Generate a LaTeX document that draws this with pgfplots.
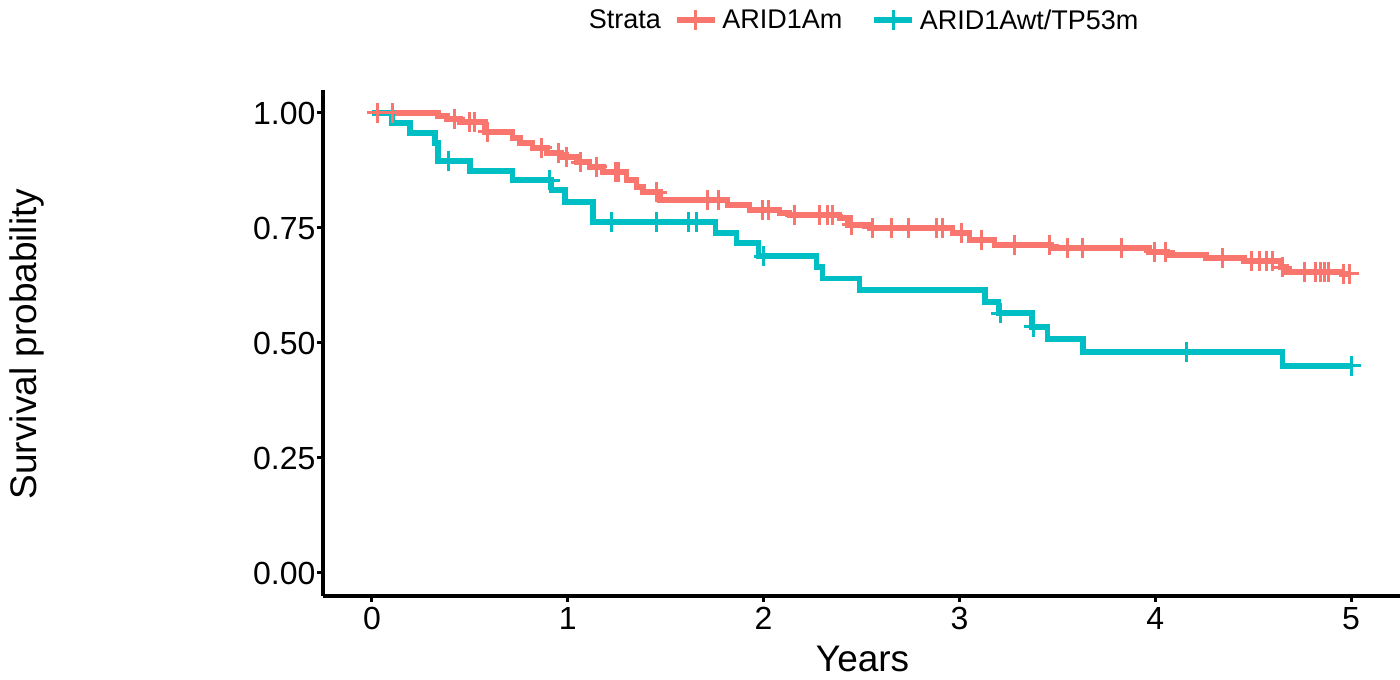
\documentclass[border=0pt]{standalone}
\usepackage{fontspec}
\setmainfont{Liberation Sans}
\usepackage{pgfplots}
\usepackage{pgfplotstable}
\pgfplotsset{compat=1.18}
\definecolor{kmred}{HTML}{F8766D}
\definecolor{kmteal}{HTML}{00BFC4}

\pgfplotstableread{
x y
0 1.000
0.337 0.993
0.383 0.987
0.449 0.980
0.577 0.959
0.719 0.946
0.755 0.935
0.821 0.924
0.893 0.913
0.969 0.904
1.046 0.893
1.112 0.883
1.179 0.872
1.301 0.854
1.352 0.839
1.383 0.828
1.470 0.811
1.816 0.800
1.929 0.789
2.082 0.783
2.133 0.778
2.388 0.772
2.429 0.757
2.540 0.750
2.964 0.739
3.051 0.724
3.179 0.713
3.469 0.707
3.969 0.698
4.061 0.691
4.260 0.685
4.454 0.678
4.643 0.665
4.668 0.654
4.954 0.650
5.000 0.650
}\redcurve

\pgfplotstableread{
x y
0.026 1.000
0.107 1.000
0.423 0.987
0.500 0.980
0.526 0.980
0.592 0.959
0.867 0.924
0.954 0.913
0.995 0.904
1.066 0.893
1.148 0.883
1.245 0.872
1.260 0.872
1.454 0.828
1.714 0.811
1.770 0.811
1.995 0.789
2.026 0.789
2.158 0.778
2.286 0.778
2.327 0.778
2.352 0.778
2.449 0.757
2.556 0.750
2.653 0.750
2.740 0.750
2.883 0.750
2.913 0.750
3.010 0.739
3.112 0.724
3.281 0.713
3.459 0.713
3.551 0.707
3.628 0.707
3.827 0.707
3.995 0.698
4.051 0.698
4.342 0.685
4.490 0.678
4.531 0.678
4.566 0.678
4.597 0.678
4.648 0.665
4.760 0.654
4.816 0.654
4.842 0.654
4.862 0.654
4.883 0.654
4.964 0.650
4.990 0.650
}\redcens

\pgfplotstableread{
x y
0 1.000
0.102 0.978
0.194 0.957
0.321 0.935
0.337 0.896
0.500 0.874
0.719 0.854
0.918 0.833
0.985 0.807
1.128 0.763
1.755 0.739
1.862 0.717
1.974 0.689
2.270 0.665
2.300 0.640
2.490 0.615
3.130 0.589
3.200 0.565
3.370 0.535
3.450 0.509
3.630 0.480
4.650 0.450
5.000 0.450
}\tealcurve

\pgfplotstableread{
x y
0.393 0.896
0.908 0.854
1.223 0.763
1.454 0.763
1.617 0.763
1.658 0.763
2.000 0.689
3.210 0.565
3.380 0.535
4.160 0.480
5.000 0.450
}\tealcens

\begin{document}
\begin{tikzpicture}
\useasboundingbox (0,0) rectangle (1400bp,680bp);
\begin{axis}[
 at={(323bp,84bp)}, anchor=south west,
 scale only axis, width=1077bp, height=506bp,
 xmin=-0.25, xmax=5.25, ymin=-0.05, ymax=1.05,
 axis lines=left, axis line style={-, line width=3.2bp, black},
 xtick={0,1,2,3,4,5}, ytick={0,0.25,0.5,0.75,1},
 xticklabels={0,1,2,3,4,5},
 yticklabels={0.00,0.25,0.50,0.75,1.00},
 tick align=outside, major tick length=6bp,
 tick style={line width=3bp, black},
 ticklabel style={font=\fontsize{32bp}{36bp}\selectfont},
 yticklabel style={xshift=2bp},
 xticklabel style={yshift=-2bp},
 xlabel={Years}, ylabel={Survival probability},
 xlabel style={font=\fontsize{37bp}{42bp}\selectfont, at={(axis description cs:0.501,-0.150)}, anchor=base},
 ylabel style={font=\fontsize{37bp}{42bp}\selectfont, at={(axis description cs:-0.2656,0.498)}, anchor=base},
 legend columns=-1,
 legend style={at={(axis description cs:0.502,1.138)}, anchor=center, draw=none, fill=none,
   font=\fontsize{27bp}{31bp}\selectfont,
   /tikz/column 2/.style={column sep=11bp}, /tikz/column 3/.style={column sep=3bp},
   /tikz/column 4/.style={column sep=27bp}, /tikz/column 5/.style={column sep=3bp}},
 legend image code/.code={\draw[#1, line width=5.5bp] (0bp,0bp) -- (38bp,0bp);
   \draw[#1, line width=3bp] (19bp,-10bp) -- (19bp,10bp);},
 clip=false,
]
\addlegendimage{empty legend}
\addlegendentry{Strata}
\addlegendimage{kmred}
\addlegendentry{ARID1Am}
\addlegendimage{kmteal}
\addlegendentry{ARID1Awt/TP53m}
\addplot[kmred, line width=5.5bp, const plot, forget plot] table[x=x,y=y] {\redcurve};
\addplot[kmteal, line width=5.5bp, const plot, forget plot] table[x=x,y=y] {\tealcurve};
\addplot[kmred, only marks, mark=+, mark size=10bp, mark options={line width=3bp}, forget plot] table[x=x,y=y] {\redcens};
\addplot[kmteal, only marks, mark=+, mark size=10bp, mark options={line width=3bp}, forget plot] table[x=x,y=y] {\tealcens};
\end{axis}
\end{tikzpicture}
\end{document}
